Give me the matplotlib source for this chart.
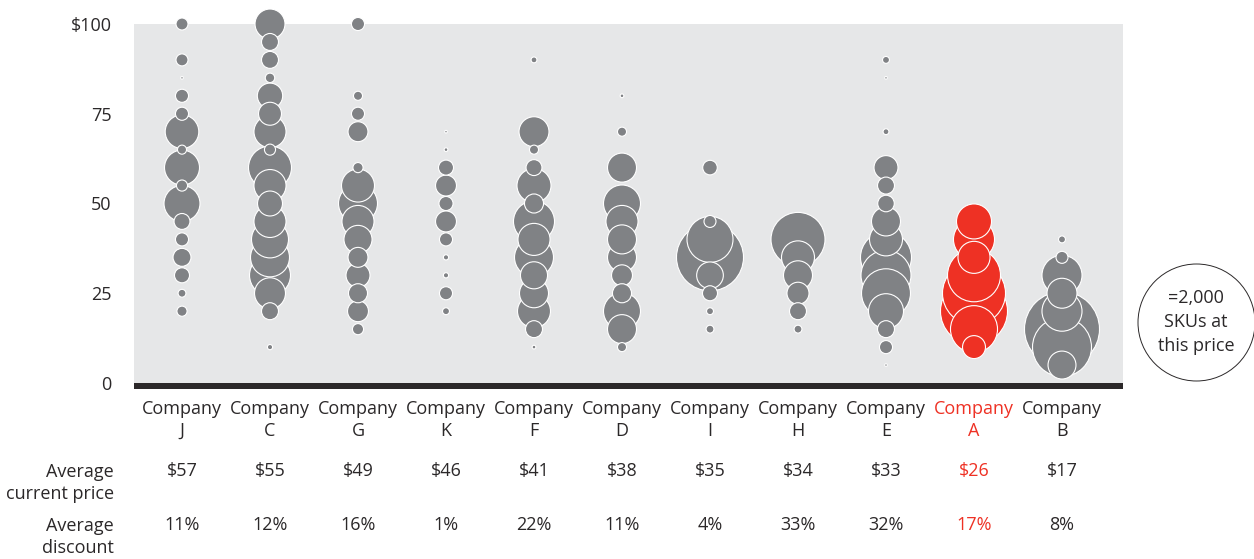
import matplotlib
matplotlib.use("Agg")
import matplotlib.pyplot as plt
from matplotlib.patches import Rectangle
from matplotlib.transforms import blended_transform_factory
import numpy as np

plt.rcParams['font.family'] = ['Open Sans', 'DejaVu Sans']

# ---- data -------------------------------------------------------------
companies = ["J", "C", "G", "K", "F", "D", "I", "H", "E", "A", "B"]
highlight = "A"
avg_price = [57, 55, 49, 46, 41, 38, 35, 34, 33, 26, 17]
avg_discount = [11, 12, 16, 1, 22, 11, 4, 33, 32, 17, 8]

# price points ($) at which SKU counts are recorded
price_levels = [100, 95, 90, 85, 80, 75, 70, 65, 60, 55, 50, 45, 40, 35, 30, 25, 20, 15, 10, 5]

# number of SKUs at each price point, per company (0 = none)
skus_J = [21, 0, 21, 1, 25, 25, 165, 12, 179, 18, 189, 37, 25, 47, 33, 9, 15, 0, 0, 0]
skus_C = [131, 42, 42, 13, 94, 77, 150, 18, 270, 150, 91, 150, 200, 222, 245, 140, 42, 0, 4, 0]
skus_G = [25, 0, 0, 0, 12, 25, 58, 0, 15, 159, 222, 150, 115, 58, 84, 53, 64, 18, 0, 0]
skus_K = [0, 0, 0, 0, 0, 0, 1, 2, 33, 64, 29, 64, 25, 4, 4, 25, 7, 0, 0, 0]
skus_F = [0, 0, 5, 0, 0, 0, 131, 12, 37, 169, 53, 246, 150, 222, 107, 123, 159, 42, 2, 0]
skus_D = [0, 0, 0, 0, 2, 0, 12, 0, 123, 0, 200, 150, 123, 123, 64, 53, 200, 123, 12, 0]
skus_I = [0, 0, 0, 0, 0, 0, 0, 0, 31, 0, 0, 21, 309, 656, 104, 33, 7, 9, 0, 0]
skus_H = [0, 0, 0, 0, 0, 0, 0, 0, 0, 0, 0, 0, 426, 159, 123, 71, 42, 9, 0, 0]
skus_E = [0, 0, 7, 1, 0, 0, 5, 0, 84, 42, 40, 123, 159, 380, 365, 350, 179, 42, 25, 1]
skus_A = [0, 0, 0, 0, 0, 0, 0, 0, 0, 0, 0, 179, 246, 150, 410, 580, 656, 323, 77, 0]
skus_B = [0, 0, 0, 0, 0, 0, 0, 0, 0, 0, 0, 0, 7, 21, 234, 131, 234, 822, 508, 114]

skus_by_company = [skus_J, skus_C, skus_G, skus_K, skus_F, skus_D,
                   skus_I, skus_H, skus_E, skus_A, skus_B]
legend_skus = 2000

# ---- style ------------------------------------------------------------
BG = "#E6E7E8"
GREY = "#808285"
RED = "#EE3124"
INK = "#2B2829"
DPI = 100
W, H = 1254, 559
FS = 13

# marker area (pt^2) per SKU: 2,000 SKUs -> 117 px diameter
LEGEND_DIAM_PX = 117
AREA_PER_SKU = (LEGEND_DIAM_PX * 72 / DPI) ** 2 / legend_skus

fig = plt.figure(figsize=(W / DPI, H / DPI), dpi=DPI)
ax_left, ax_right, ax_top, ax_bottom = 134, 1123, 24, 383
ax = fig.add_axes([ax_left / W, 1 - ax_bottom / H,
                   (ax_right - ax_left) / W, (ax_bottom - ax_top) / H])
ax.set_facecolor(BG)
for s in ax.spines.values():
    s.set_visible(False)

col_step = 88.0
x_first = 182
ax.set_xlim((ax_left - x_first) / col_step, (ax_right - x_first) / col_step)
ax.set_ylim(0, 100)

# collect bubbles, draw biggest first so small ones sit on top
xs, ys, cs, cols = [], [], [], []
for i, (name, skus) in enumerate(zip(companies, skus_by_company)):
    for p, n in zip(price_levels, skus):
        if n > 0:
            xs.append(i)
            ys.append(p)
            cs.append(n)
            cols.append(RED if name == highlight else GREY)
order = np.argsort(cs, kind="stable")[::-1]
xs = np.array(xs)[order]
ys = np.array(ys)[order]
cs = np.array(cs)[order]
cols = [cols[k] for k in order]
ax.scatter(xs, ys, s=cs * AREA_PER_SKU, c=cols, edgecolors="white",
           linewidths=0.8, clip_on=False, zorder=3)

# baseline bar
ax.add_patch(Rectangle((0, -6 / (ax_bottom - ax_top)), 1, 6 / (ax_bottom - ax_top),
                       transform=ax.transAxes, clip_on=False,
                       facecolor=INK, edgecolor="none", zorder=4))

# y axis
ax.set_yticks([0, 25, 50, 75, 100])
ax.set_yticklabels(["0", "25", "50", "75", "$100"])
ax.tick_params(axis="y", length=0, pad=16, labelsize=FS, labelcolor=INK)
ax.set_xticks([])

# legend bubble
leg_x = (1196 - x_first) / col_step
leg_y = (ax_bottom - 322) / 3.59
ax.scatter([leg_x], [leg_y], s=[legend_skus * AREA_PER_SKU], facecolors="white",
           edgecolors=INK, linewidths=0.7, clip_on=False, zorder=3)
ax.text(leg_x, leg_y, "=2,000\nSKUs at\nthis price", ha="center", va="center",
        fontsize=FS, color=INK, linespacing=1.4, zorder=5)

# labels beneath the chart
tr = blended_transform_factory(ax.transData, fig.transFigure)
def fy(py):
    return 1 - py / H

for i, name in enumerate(companies):
    c = RED if name == highlight else INK
    ax.text(i, fy(420), f"Company\n{name}", transform=tr, ha="center", va="center",
            fontsize=FS, color=c, linespacing=1.32)
    ax.text(i, fy(471), f"${avg_price[i]}", transform=tr, ha="center", va="center",
            fontsize=FS, color=c)
    ax.text(i, fy(525), f"{avg_discount[i]}%", transform=tr, ha="center", va="center",
            fontsize=FS, color=c)

fig.text(114 / W, fy(483), "Average\ncurrent price", ha="right", va="center",
         fontsize=FS, color=INK, linespacing=1.33)
fig.text(114 / W, fy(537), "Average\ndiscount", ha="right", va="center",
         fontsize=FS, color=INK, linespacing=1.33)

fig.savefig("out.png", dpi=DPI)
